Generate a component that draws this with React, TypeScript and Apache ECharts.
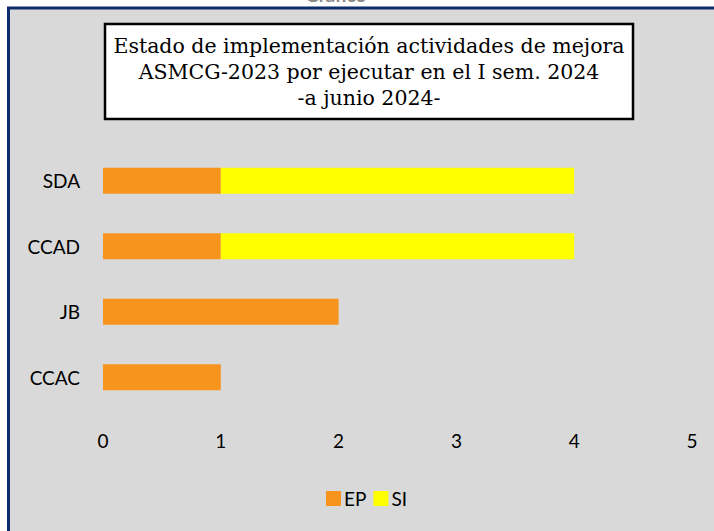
import React, { useEffect, useRef } from "react";
import * as echarts from "echarts";

const categories = ["CCAC", "JB", "CCAD", "SDA"];
const epValues = [1, 2, 1, 1];
const siValues = [0, 0, 3, 3];
const xTicks = [0, 1, 2, 3, 4, 5];
const titleLines = [
  "Estado de implementación actividades de mejora",
  "ASMCG-2023 por ejecutar en el I sem. 2024",
  "-a junio 2024-",
];

export default function App() {
  const ref = useRef<HTMLDivElement>(null);
  useEffect(() => {
    if (!ref.current) return;
    const chart = echarts.init(ref.current, null, { renderer: "svg" });
    const sans = "Lato, 'Open Sans', sans-serif";
    chart.setOption({
      animation: false,
      backgroundColor: "#ffffff",
      graphic: [
        {
          type: "text",
          left: 305,
          top: -15,
          z: 0,
          style: { text: "Gráfico", fill: "#8a8a8a", font: "bold 19px " + sans },
        },
        {
          type: "rect",
          z: -10,
          shape: { x: 8.5, y: 8, width: 720, height: 540 },
          style: { fill: "#d9d9d9", stroke: "#0d2d6c", lineWidth: 3 },
        },
        {
          type: "rect",
          z: 10,
          shape: { x: 105, y: 24, width: 528, height: 95 },
          style: { fill: "#ffffff", stroke: "#000000", lineWidth: 2.5 },
        },
        {
          type: "text",
          z: 11,
          x: 369,
          y: 72,
          style: {
            text: titleLines.join("\n"),
            fill: "#000000",
            font: "20.5px 'DejaVu Serif', 'Liberation Serif', serif",
            lineHeight: 26,
            align: "center",
            verticalAlign: "middle",
          },
        },
      ],
      legend: {
        left: 321,
        top: 484,
        itemWidth: 15,
        itemHeight: 15,
        itemGap: 7,
        icon: "rect",
        textStyle: { fontFamily: sans, fontSize: 19, color: "#000", padding: [0, 0, 0, -2] },
        data: ["EP", "SI"],
      },
      grid: { left: 103, right: 22, top: 148, bottom: 121, containLabel: false },
      xAxis: {
        type: "value",
        min: 0,
        max: 5,
        interval: 1,
        axisLine: { show: false },
        axisTick: { show: false },
        splitLine: { show: false },
        axisLabel: {
          margin: 21,
          fontFamily: sans,
          fontSize: 19,
          color: "#000",
          formatter: (v: number) => (xTicks.includes(v) ? String(v) : ""),
        },
      },
      yAxis: {
        type: "category",
        data: categories,
        axisLine: { show: false },
        axisTick: { show: false },
        splitLine: { show: false },
        axisLabel: { margin: 23, fontFamily: sans, fontSize: 19, color: "#000" },
      },
      series: [
        {
          name: "EP",
          type: "bar",
          stack: "total",
          barWidth: 26,
          data: epValues,
          itemStyle: { color: "#f7941d" },
        },
        {
          name: "SI",
          type: "bar",
          stack: "total",
          barWidth: 26,
          data: siValues,
          itemStyle: { color: "#ffff00" },
        },
      ],
    });
    return () => chart.dispose();
  }, []);
  return (
    <div
      ref={ref}
      style={{ position: "fixed", left: 0, top: 0, width: 714, height: 531 }}
    />
  );
}
